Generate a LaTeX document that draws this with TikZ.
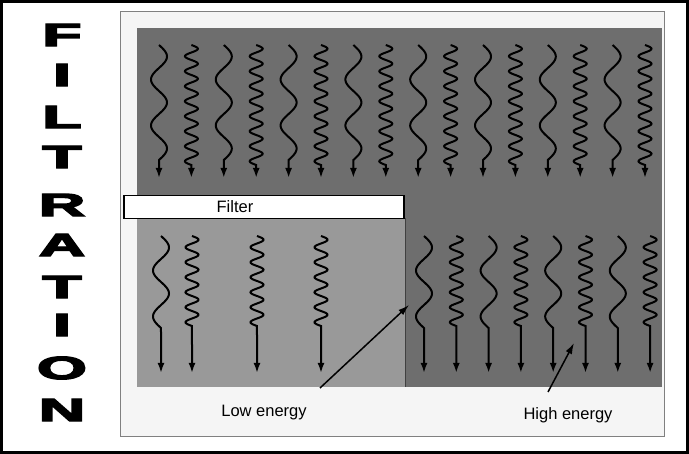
\documentclass[tikz,border=0pt]{standalone}
\usepackage{fontspec}
\setmainfont{Liberation Sans}
\newfontfamily\heavy[FakeBold=4]{Liberation Sans Bold}
\usetikzlibrary{arrows.meta}
\tikzset{
  wave/.style={line width=2pt, black, -{Latex[length=10pt,width=7pt]}},
  ptr/.style={line width=1.5pt, -{Latex[length=11pt,width=7pt]}},
  big/.style={font=\fontsize{32}{32}\heavy, inner sep=0pt, transform shape, xscale=2},
  lbl/.style={font=\fontsize{16.5}{16.5}\selectfont, inner sep=0pt}
}
\begin{document}
\begin{tikzpicture}[x=1pt,y=-1pt]
\useasboundingbox (0,0) rectangle (689,454);
\fill[white] (0,0) rectangle (689,454);
\draw[line width=3pt] (1.5,1.5) rectangle (687.5,452.5);
\fill[black!4] (120,12) rectangle (664,437);
\draw[black!50, line width=1pt] (120,12) rectangle (664,437);
\fill[black!57] (137,28) rectangle (662,387);
\fill[black!40] (137,218) rectangle (405,387);
\draw[black!75, line width=0.8pt] (405,218) -- (405,387);
\node[draw, line width=1.5pt, fill=white, minimum width=280pt, minimum height=23pt, inner sep=0pt, anchor=north west] (filter) at (123,195) {};
\node[lbl] (ft) at (235,206.5) {Filter};
\foreach \l/\yy [count=\i] in {F/35,I/75,L/117,T/157,R/205,A/245,T/287,I/325,O/368,N/410}
  \node[big] (L\i) at (62,\yy) {\l};
\foreach \k in {0,...,15}{
  \pgfmathsetmacro{\xx}{159+\k*32.4}
  \pgfmathparse{mod(\k,2)}
  \ifdim\pgfmathresult pt<0.5pt
    \draw[wave] plot[domain=0:115, samples=100, smooth] ({\xx+8*sin(\x*7.826)},{45+\x}) -- (\xx,178);
  \else
    \draw[wave] plot[domain=0:120, samples=160, smooth] ({\xx+6.5*sin(\x*24)},{45+\x}) -- (\xx,178);
  \fi
}
\draw[wave] plot[domain=0:92, samples=100, smooth] ({161+8*sin(\x*7.826)},{236+\x}) -- (161,373);
\foreach \xx in {192,257,321}
  \draw[wave] plot[domain=0:90, samples=140, smooth] ({\xx+6.5*sin(\x*24)},{236+\x}) -- (\xx,373);
\foreach \k in {0,...,7}{
  \pgfmathsetmacro{\xx}{424+\k*32.3}
  \pgfmathparse{mod(\k,2)}
  \ifdim\pgfmathresult pt<0.5pt
    \draw[wave] plot[domain=0:92, samples=100, smooth] ({\xx+8*sin(\x*7.826)},{236+\x}) -- (\xx,373);
  \else
    \draw[wave] plot[domain=0:90, samples=140, smooth] ({\xx+6.5*sin(\x*24)},{236+\x}) -- (\xx,373);
  \fi
}
\node[lbl] (low) at (264,413) {Low energy};
\node[lbl] (high) at (568,415) {High energy};
\coordinate (lowt) at (409,305);
\coordinate (hight) at (574,343);
\draw[ptr] (320,388) -- (lowt);
\draw[ptr] (548,392) -- (hight);
\end{tikzpicture}
\end{document}
